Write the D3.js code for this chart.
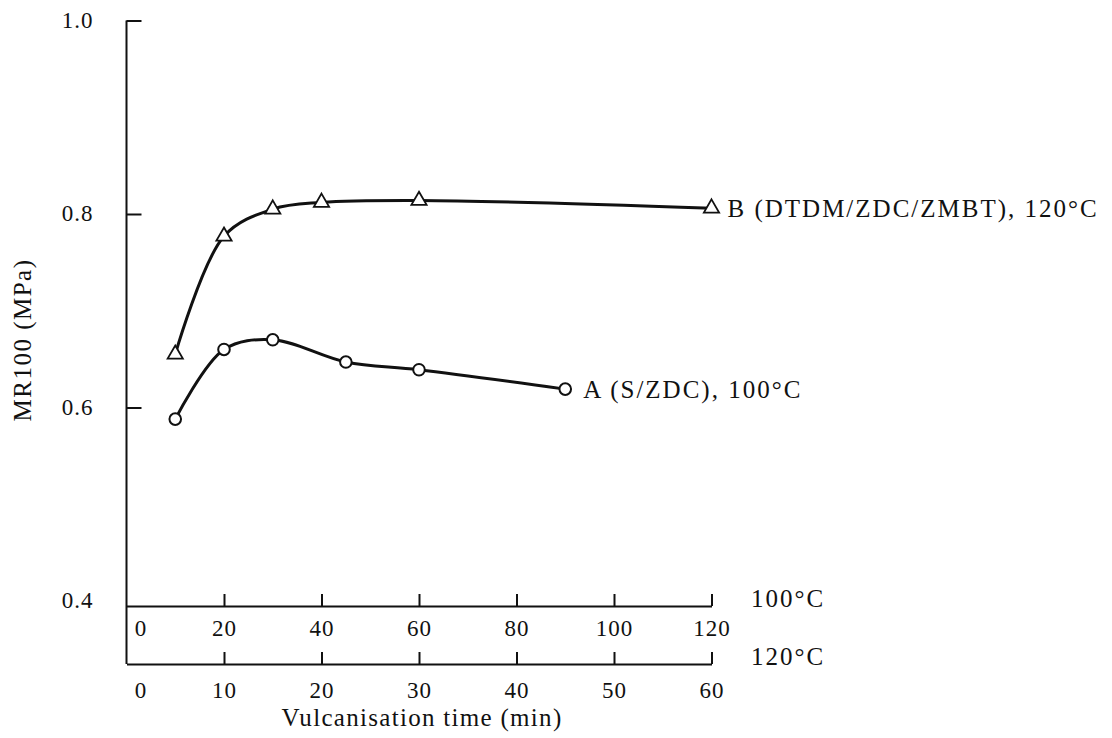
<!DOCTYPE html>
<html lang="en">

<head>
    <meta charset="UTF-8">
    <title>MR100 vs vulcanisation time</title>
    <style>
        body { margin: 0; background: #fff; }
    </style>
</head>

<body>
    <script src="https://cdn.jsdelivr.net/npm/d3@7"></script>
    <script>
        // curve A: S/ZDC, read on the 100°C time scale
        var timeA = [10, 20, 30, 45, 60, 90];
        var mrA = [0.588, 0.660, 0.670, 0.647, 0.639, 0.619];
        // curve B: DTDM/ZDC/ZMBT, read on the 120°C time scale
        var timeB = [5, 10, 15, 20, 30, 60];
        var mrB = [0.655, 0.777, 0.805, 0.812, 0.814, 0.806];

        var ticks100 = [0, 20, 40, 60, 80, 100, 120];
        var ticks120 = [0, 10, 20, 30, 40, 50, 60];
        var yTicks = [0.4, 0.6, 0.8, 1.0];

        var W = 1112, H = 738;
        var x0 = 126.5, x1 = 711.5;
        var axis100Y = 606, axis120Y = 664;
        var ink = '#111';
        var serif = 'Liberation Serif';

        var svg = d3.select('body').append('svg').attr('width', W).attr('height', H)
            .attr('font-family', serif);

        var x100 = d3.scaleLinear().domain([0, 120]).range([x0, x1]);
        var x120 = d3.scaleLinear().domain([0, 60]).range([x0, x1]);
        var y = d3.scaleLinear().domain([0.4, 1.0]).range([601, 20.5]);

        var label = function (sel, size, ls) {
            return sel.attr('font-family', serif).attr('font-size', size)
                .attr('letter-spacing', ls).attr('fill', ink);
        }

        //y轴
        svg.append('line')
            .attr('x1', x0).attr('x2', x0)
            .attr('y1', y(1.0)).attr('y2', axis120Y)
            .attr('stroke', ink).attr('stroke-width', 2);

        var gy = svg.append('g').attr('transform', 'translate(' + x0 + ',0)')
            .call(d3.axisLeft(y).tickValues(yTicks).tickFormat(d3.format('.1f'))
                .tickSizeInner(-15).tickSizeOuter(0).tickPadding(33));
        gy.attr('font-family', serif);
        gy.select('.domain').remove();
        gy.selectAll('.tick line').attr('stroke', ink).attr('stroke-width', 2)
            .filter(function (d) { return d === 0.4; }).remove();
        label(gy.selectAll('.tick text'), 23, 1).attr('dy', '0.3em');

        //两条时间轴
        var drawTimeAxis = function (scale, ticks, yPos, pad) {
            var g = svg.append('g').attr('transform', 'translate(0,' + yPos + ')')
                .call(d3.axisBottom(scale).tickValues(ticks)
                    .tickSizeInner(-12).tickSizeOuter(0).tickPadding(pad));
            g.attr('font-family', serif);
            g.select('.domain').attr('stroke', ink).attr('stroke-width', 2);
            g.selectAll('.tick line').attr('stroke', ink).attr('stroke-width', 2)
                .filter(function (d) { return d === 0; }).remove();
            label(g.selectAll('.tick text'), 23, 1)
                .attr('dx', function (d) { return d === 0 ? 14 : 0; });
            return g;
        }
        drawTimeAxis(x100, ticks100, axis100Y, 14);
        drawTimeAxis(x120, ticks120, axis120Y, 18);

        label(svg.append('text').attr('x', 751).attr('y', 598).attr('dy', '0.35em'), 25, 2).text('100°C');
        label(svg.append('text').attr('x', 751).attr('y', 656).attr('dy', '0.35em'), 25, 2).text('120°C');

        //坐标轴标题
        label(svg.append('text').attr('x', (x0 + x1) / 2 + 3).attr('y', 717).attr('dy', '0.35em')
            .attr('text-anchor', 'middle'), 25, 1.3)
            .text('Vulcanisation time (min)');
        label(svg.append('text').attr('transform', 'translate(22,340) rotate(-90)').attr('dy', '0.35em')
            .attr('text-anchor', 'middle'), 25, 1.5)
            .text('MR100 (MPa)');

        //曲线
        var ptsA = timeA.map(function (t, i) { return [x100(t), y(mrA[i])]; });
        var ptsB = timeB.map(function (t, i) { return [x120(t), y(mrB[i])]; });
        var line = d3.line().curve(d3.curveCatmullRom.alpha(0.5));

        svg.append('path').attr('d', line(ptsA)).attr('fill', 'none')
            .attr('stroke', ink).attr('stroke-width', 3);
        svg.append('path').attr('d', line(ptsB)).attr('fill', 'none')
            .attr('stroke', ink).attr('stroke-width', 3);

        svg.selectAll('circle.a').data(ptsA).enter().append('circle').attr('class', 'a')
            .attr('cx', function (d) { return d[0]; }).attr('cy', function (d) { return d[1]; })
            .attr('r', 5.8).attr('fill', '#fff').attr('stroke', ink).attr('stroke-width', 2);

        var tri = d3.symbol().type(d3.symbolTriangle).size(100);
        svg.selectAll('path.b').data(ptsB).enter().append('path').attr('class', 'b')
            .attr('transform', function (d) { return 'translate(' + d[0] + ',' + d[1] + ')'; })
            .attr('d', tri).attr('fill', '#fff').attr('stroke', ink).attr('stroke-width', 1.8);

        //曲线标签
        var last = ptsA.length - 1;
        label(svg.append('text').attr('x', ptsA[last][0] + 18).attr('y', ptsA[last][1]).attr('dy', '0.35em'), 25, 2)
            .text('A (S/ZDC), 100°C');
        label(svg.append('text').attr('x', ptsB[last][0] + 16).attr('y', ptsB[last][1]).attr('dy', '0.35em'), 25, 2)
            .text('B (DTDM/ZDC/ZMBT), 120°C');
    </script>
</body>

</html>
